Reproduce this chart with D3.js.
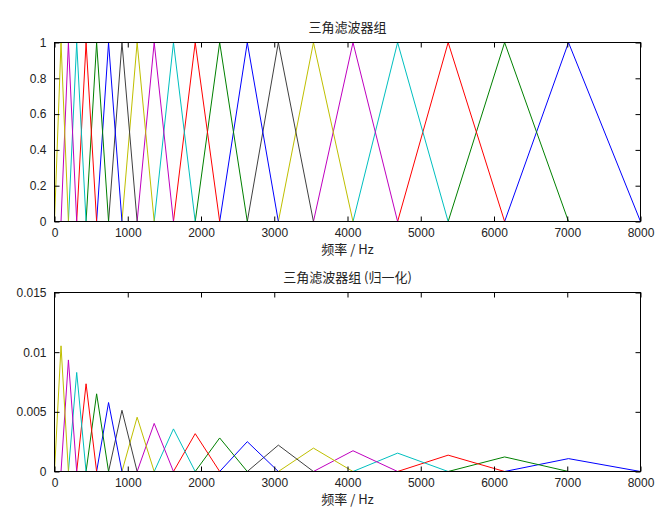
<!DOCTYPE html>
<html>
<head>
<meta charset="utf-8">
<script src="https://cdn.jsdelivr.net/npm/d3@7"></script>
<style>
  html, body { margin: 0; padding: 0; background: #fff; }
  svg { display: block; }
  text { font-family: "Liberation Sans", Arial, sans-serif; fill: #222; }
  .cjk { font-family: "Noto Sans CJK SC", sans-serif; }
</style>
</head>
<body>
<svg id="chart" width="657" height="510"></svg>
<script>
// Mel-spaced band edges (Hz): filter k spans edges[k-1] .. edges[k+1], peak at edges[k]
const edges = [0, 89, 190, 303, 431, 575, 738, 921, 1128, 1361, 1624, 1921,
               2255, 2632, 3056, 3535, 4075, 4684, 5374, 6145, 7017, 8000];

// Peak heights of each filter after area normalisation
const normPeaks = [0.01053, 0.00935, 0.00830, 0.00735, 0.00651, 0.00578, 0.00513,
                   0.00455, 0.00403, 0.00357, 0.00317, 0.00281, 0.00250, 0.00221,
                   0.00196, 0.00174, 0.00154, 0.00137, 0.00122, 0.00108];

// Line colours per filter (classic colour order, drawn from the last filter back)
const palette = ["#0000ff", "#008000", "#ff0000", "#00bfbf", "#bf00bf", "#bfbf00", "#404040"];

const xTicks = [0, 1000, 2000, 3000, 4000, 5000, 6000, 7000, 8000];
const yTicksTop = [0, 0.2, 0.4, 0.6, 0.8, 1];
const yTicksBottom = [0, 0.005, 0.01, 0.015];
const yLabelsTop = ["0", "0.2", "0.4", "0.6", "0.8", "1"];
const yLabelsBottom = ["0", "0.005", "0.01", "0.015"];

const titleTop = "三角滤波器组";
const titleBottom = "三角滤波器组 (归一化)";
const xLabel = "频率 / Hz";

const svg = d3.select("#chart");
const nFilters = edges.length - 2;

function filterColor(k) {
  // k is 0-based filter index; last filter takes the first colour
  return palette[(nFilters - 1 - k) % palette.length];
}

function drawPanel(opts) {
  const { left, right, top, bottom, yMax, yTicks, yLabels, peaks, title } = opts;
  const x = d3.scaleLinear().domain([0, 8000]).range([left, right]);
  const y = d3.scaleLinear().domain([0, yMax]).range([bottom, top]);
  const g = svg.append("g");

  // Filter triangles, drawn from the highest band down
  const line = d3.line().x(d => x(d[0])).y(d => y(d[1]));
  for (let k = nFilters - 1; k >= 0; k--) {
    const pts = [[edges[k], 0], [edges[k + 1], peaks[k]], [edges[k + 2], 0]];
    g.append("path")
      .attr("d", line(pts))
      .attr("fill", "none")
      .attr("stroke", filterColor(k))
      .attr("stroke-width", 1);
  }

  // Axes with inward ticks on all four sides
  const tickLen = 5;
  const xb = g.append("g").attr("transform", `translate(0,${bottom})`)
    .call(d3.axisBottom(x).tickValues(xTicks).tickSize(-tickLen).tickPadding(7)
      .tickFormat(d3.format("d")));
  const xt = g.append("g").attr("transform", `translate(0,${top})`)
    .call(d3.axisTop(x).tickValues(xTicks).tickSize(-tickLen).tickFormat(""));
  const yl = g.append("g").attr("transform", `translate(${left},0)`)
    .call(d3.axisLeft(y).tickValues(yTicks).tickSize(-tickLen).tickPadding(8)
      .tickFormat((d, i) => yLabels[i]));
  const yr = g.append("g").attr("transform", `translate(${right},0)`)
    .call(d3.axisRight(y).tickValues(yTicks).tickSize(-tickLen).tickFormat(""));

  [xb, xt, yl, yr].forEach(a => {
    a.select(".domain").remove();
    a.selectAll(".tick line").attr("stroke", "#000");
    a.selectAll("text").style("font-size", "12px").attr("fill", "#222")
      .style("font-family", "'Liberation Sans', Arial, sans-serif");
  });

  g.append("rect")
    .attr("x", left).attr("y", top)
    .attr("width", right - left).attr("height", bottom - top)
    .attr("fill", "none").attr("stroke", "#000").attr("stroke-width", 1);

  g.append("text").attr("class", "cjk")
    .attr("x", (left + right) / 2).attr("y", top - 11)
    .attr("text-anchor", "middle").style("font-size", "13px")
    .text(title);

  g.append("text").attr("class", "cjk")
    .attr("x", (left + right) / 2).attr("y", bottom + 32)
    .attr("text-anchor", "middle").style("font-size", "13px")
    .text(xLabel);
}

const onesPeaks = normPeaks.map(() => 1);

drawPanel({ left: 54.5, right: 640.5, top: 42.5, bottom: 221.5, yMax: 1,
  yTicks: yTicksTop, yLabels: yLabelsTop, peaks: onesPeaks, title: titleTop });
drawPanel({ left: 54.5, right: 640.5, top: 292.5, bottom: 471.5, yMax: 0.015,
  yTicks: yTicksBottom, yLabels: yLabelsBottom, peaks: normPeaks, title: titleBottom });
</script>
</body>
</html>
